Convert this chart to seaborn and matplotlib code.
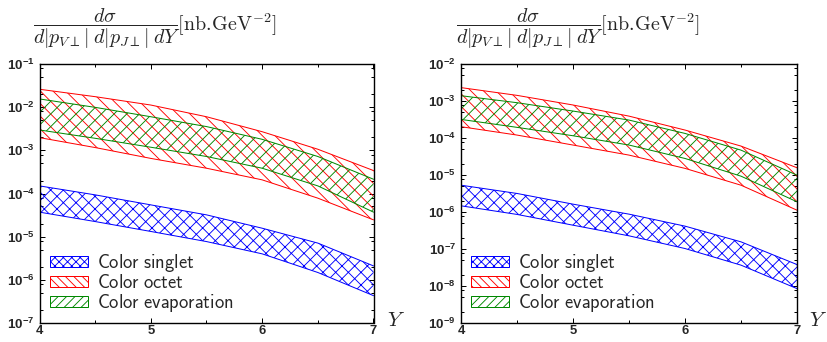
import numpy as np
import pandas as pd
import matplotlib
matplotlib.use("Agg")
import matplotlib.pyplot as plt
import seaborn as sns
from matplotlib.patches import Patch
from matplotlib.ticker import FixedLocator, FuncFormatter, NullFormatter

DPI = 76


def px(p):
    return p * 72.0 / DPI


# ---------------- data ----------------
rapidity = [4.0, 4.5, 5.0, 5.5, 6.0, 6.5, 7.0]
x_tick_labels = ["4", "5", "6", "7"]
series_labels = ["Color singlet", "Color octet", "Color evaporation"]

# left panel
left_singlet_hi = [1.5e-4, 9.3e-5, 5.45e-5, 3.2e-5, 1.57e-5, 7.1e-6, 2.1e-6]
left_singlet_lo = [3.7e-5, 2.24e-5, 1.32e-5, 7.7e-6, 4.0e-6, 1.48e-6, 4.3e-7]
left_octet_hi = [2.6e-2, 1.75e-2, 1.12e-2, 6.0e-3, 2.7e-3, 1.06e-3, 3.4e-4]
left_octet_lo = [1.97e-3, 1.16e-3, 6.5e-4, 3.85e-4, 2.07e-4, 7.8e-5, 2.45e-5]
left_evap_hi = [1.55e-2, 9.9e-3, 6.0e-3, 3.55e-3, 1.8e-3, 7.2e-4, 2.14e-4]
left_evap_lo = [2.96e-3, 1.9e-3, 1.18e-3, 7.2e-4, 3.85e-4, 1.5e-4, 3.7e-5]

# right panel
right_singlet_hi = [5.3e-6, 3.17e-6, 1.63e-6, 8.75e-7, 4.15e-7, 1.56e-7, 3.8e-8]
right_singlet_lo = [1.47e-6, 8.6e-7, 4.4e-7, 2.27e-7, 1.03e-7, 3.66e-8, 8.5e-9]
right_octet_hi = [2.3e-3, 1.42e-3, 7.8e-4, 3.9e-4, 1.64e-4, 6.05e-5, 1.57e-5]
right_octet_lo = [2.02e-4, 1.2e-4, 6.45e-5, 3.45e-5, 1.51e-5, 5.3e-6, 1.12e-6]
right_evap_hi = [1.39e-3, 9.0e-4, 5.35e-4, 3.05e-4, 1.33e-4, 4.7e-5, 9.9e-6]
right_evap_lo = [3.18e-4, 1.94e-4, 1.15e-4, 6.45e-5, 2.8e-5, 9.3e-6, 1.89e-6]

left_decades = [-7, -6, -5, -4, -3, -2, -1]
right_decades = [-9, -8, -7, -6, -5, -4, -3, -2]

# ---------------- style ----------------
sns.set_theme(style="ticks")
plt.rcParams.update({
    "font.family": ["Liberation Sans", "DejaVu Sans"],
    "mathtext.fontset": "custom",
    "mathtext.rm": "Liberation Sans",
    "mathtext.bf": "Liberation Sans:bold",
    "mathtext.it": "Liberation Sans:italic",
    "hatch.linewidth": px(0.9),
    "axes.edgecolor": "black",
    "axes.linewidth": px(1.4),
    "figure.facecolor": "white",
    "axes.facecolor": "white",
})

colors = {"singlet": "#0000ff", "octet": "#ff0000", "evap": "#008800"}
hatches = {"singlet": "xx", "octet": "\\\\", "evap": "//"}
leg_hatches = {"singlet": "xxx", "octet": "\\\\\\", "evap": "///"}

fig = plt.figure(figsize=(827 / DPI, 342 / DPI), dpi=DPI)

title = (r"$\dfrac{d\sigma}{d|p_{V\perp}|\;d|p_{J\perp}|\;dY}"
         r"\mathrm{[nb}.\!\mathrm{GeV}^{-2}\mathrm{]}$")

panels = [
    dict(rect=[39.5 / 827, 19 / 342, 334 / 827, 259 / 342], decades=left_decades,
         bands=[("singlet", left_singlet_lo, left_singlet_hi),
                ("octet", left_octet_lo, left_octet_hi),
                ("evap", left_evap_lo, left_evap_hi)],
         title_x=33, y_x=396),
    dict(rect=[461 / 827, 19 / 342, 336 / 827, 259 / 342], decades=right_decades,
         bands=[("singlet", right_singlet_lo, right_singlet_hi),
                ("octet", right_octet_lo, right_octet_hi),
                ("evap", right_evap_lo, right_evap_hi)],
         title_x=456, y_x=818),
]


def fmt(v, pos):
    e = int(round(np.log10(v)))
    return r"$\mathbf{10^{%d}}$" % e


for p in panels:
    ax = fig.add_axes(p["rect"])
    ax.set_yscale("log")
    for key, lo, hi in p["bands"]:
        c = colors[key]
        with plt.rc_context({"hatch.color": c}):
            ax.fill_between(rapidity, lo, hi, facecolor="none", edgecolor=c,
                            hatch=hatches[key], linewidth=0)
        df = pd.DataFrame({"Y": rapidity, "hi": hi, "lo": lo})
        sns.lineplot(data=df, x="Y", y="hi", color=c, lw=px(1.0), ax=ax, legend=False)
        sns.lineplot(data=df, x="Y", y="lo", color=c, lw=px(1.0), ax=ax, legend=False)

    dec = p["decades"]
    ax.set_xlim(4, 7)
    ax.set_ylim(10.0 ** dec[0], 10.0 ** dec[-1])
    ax.set_xlabel("")
    ax.set_ylabel("")
    ax.xaxis.set_major_locator(FixedLocator([4, 5, 6, 7]))
    ax.set_xticklabels(x_tick_labels)
    ax.xaxis.set_minor_locator(FixedLocator([4.5, 5.5, 6.5]))
    ax.yaxis.set_major_locator(FixedLocator([10.0 ** d for d in dec]))
    ax.yaxis.set_minor_locator(FixedLocator(
        [m * 10.0 ** d for d in dec[:-1] for m in (2.0, 5.0, 8.0)]))
    ax.yaxis.set_major_formatter(FuncFormatter(fmt))
    ax.yaxis.set_minor_formatter(NullFormatter())
    ax.tick_params(which="both", direction="in", top=True, right=True,
                   color="black", width=px(1.0))
    ax.tick_params(which="major", length=px(5), labelsize=px(13.5), pad=px(5))
    ax.tick_params(axis="x", which="major", pad=px(2.5), labelsize=px(13))
    ax.tick_params(which="minor", length=px(3))
    for lab in ax.get_xticklabels():
        lab.set_fontweight("bold")
    for s in ax.spines.values():
        s.set_visible(True)
        s.set_color("black")
        s.set_linewidth(px(1.4))

    handles = []
    for key in ["singlet", "octet", "evap"]:
        c = colors[key]
        with plt.rc_context({"hatch.color": c}):
            handles.append(Patch(facecolor="white", edgecolor=c,
                                 hatch=leg_hatches[key], linewidth=px(1.0)))
    labels = [r"$\mathsf{" + s.replace(" ", r"\ ") + "}$" for s in series_labels]
    leg = ax.legend(handles=handles, labels=labels, loc="lower left",
                    bbox_to_anchor=(0.031, 0.035), frameon=False,
                    fontsize=px(18.5), handlelength=2.05, handleheight=0.5,
                    handletextpad=0.48, labelspacing=0.0,
                    borderpad=0, borderaxespad=0)
    for t in leg.get_texts():
        t.set_math_fontfamily("cm")

    fig.text(p["title_x"] / 827, 1 - 29 / 342, title, math_fontfamily="cm",
             fontsize=px(20), ha="left", va="center")
    fig.text(p["y_x"] / 827, 1 - 320 / 342, r"$Y$", math_fontfamily="cm",
             fontsize=px(21), ha="center", va="center")

fig.savefig("out.png", dpi=DPI)
